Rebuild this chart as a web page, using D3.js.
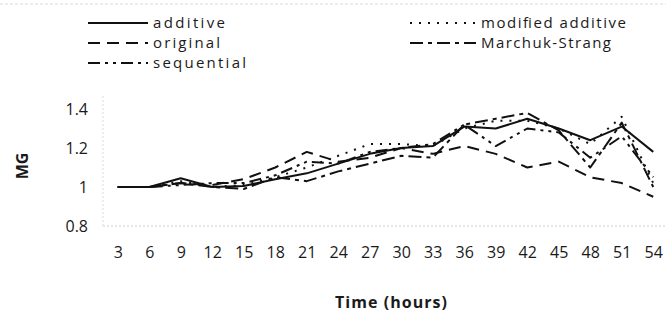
<!DOCTYPE html>
<html>
<head>
<meta charset="utf-8">
<script src="https://cdn.jsdelivr.net/npm/d3@7"></script>
<style>
  html, body { margin: 0; padding: 0; background: #fff; }
  svg { display: block; }
  text { font-family: "Open Sans", "Noto Sans", sans-serif; fill: #1a1a1a; }
</style>
</head>
<body>
<svg id="chart" width="666" height="327"></svg>
<script>
// Time axis categories (hours)
const hours = ["3","6","9","12","15","18","21","24","27","30","33","36","39","42","45","48","51","54"];
const yTicks = [0.8, 1, 1.2, 1.4];

// MG values per splitting scheme
const additive         = [1.00,1.00,1.045,1.00,1.005,1.04,1.07,1.12,1.17,1.20,1.21,1.31,1.30,1.35,1.30,1.24,1.31,1.18];
const original         = [1.00,1.00,1.02,1.01,1.04,1.10,1.18,1.13,1.15,1.20,1.17,1.21,1.17,1.10,1.13,1.05,1.02,0.95];
const sequential       = [1.00,1.00,1.01,1.02,1.02,1.06,1.13,1.12,1.18,1.20,1.22,1.32,1.21,1.30,1.28,1.15,1.26,1.05];
const modifiedAdditive = [1.00,1.00,1.03,1.00,1.01,1.05,1.10,1.16,1.22,1.22,1.21,1.30,1.34,1.34,1.30,1.22,1.36,1.02];
const marchukStrang    = [1.00,1.00,1.02,1.00,0.99,1.05,1.03,1.08,1.12,1.16,1.15,1.32,1.35,1.38,1.29,1.10,1.33,1.00];

const series = [
  { name: "additive",          values: additive,         dash: null },
  { name: "original",          values: original,         dash: "12,7" },
  { name: "sequential",        values: sequential,       dash: "12,5,3,5,3,5" },
  { name: "modified additive", values: modifiedAdditive, dash: "2,7" },
  { name: "Marchuk-Strang",    values: marchukStrang,    dash: "13,5,4,5" }
];

const svg = d3.select("#chart");

const x = d3.scalePoint().domain(hours).range([102, 669]).padding(0.5);
const y = d3.scaleLinear().domain([0.8, 1.4]).range([226, 109]);

// faint frame line at the top
svg.append("line")
  .attr("x1", 0).attr("x2", 666).attr("y1", 4).attr("y2", 4)
  .attr("stroke", "#e6e6e6").attr("stroke-width", 1.5).attr("stroke-dasharray", "3,2");

// faint dotted axis lines
svg.append("line")
  .attr("x1", 103).attr("x2", 666).attr("y1", y(0.8)).attr("y2", y(0.8))
  .attr("stroke", "#cfcfcf").attr("stroke-width", 1.2).attr("stroke-dasharray", "2,2");
svg.append("line")
  .attr("x1", 103).attr("x2", 103).attr("y1", 96).attr("y2", y(0.8))
  .attr("stroke", "#e2e2e2").attr("stroke-width", 1.2).attr("stroke-dasharray", "2,2");

// y axis labels
const yAxis = d3.axisLeft(y).tickValues(yTicks).tickSize(0).tickPadding(0)
  .tickFormat(d => d === 1 ? "1" : d3.format(".1f")(d));
const gy = svg.append("g").attr("transform", "translate(88,0)").call(yAxis);
gy.select(".domain").remove();
gy.selectAll("text").attr("font-size", 16).attr("font-family", "Open Sans, sans-serif").attr("fill", "#1a1a1a");

// x axis labels
const xAxis = d3.axisBottom(x).tickSize(0).tickPadding(0);
const gx = svg.append("g").attr("transform", "translate(0,247)").call(xAxis);
gx.select(".domain").remove();
gx.selectAll("text").attr("font-size", 16).attr("font-family", "Open Sans, sans-serif").attr("fill", "#1a1a1a");

// axis titles
svg.append("text")
  .attr("x", 391).attr("y", 308).attr("text-anchor", "middle")
  .attr("font-size", 16).attr("font-weight", "bold")
  .attr("textLength", 112).attr("lengthAdjust", "spacing")
  .text("Time (hours)");
svg.append("text")
  .attr("transform", "translate(28,166) rotate(-90)")
  .attr("text-anchor", "middle")
  .attr("font-size", 16).attr("font-weight", "bold")
  .text("MG");

// lines
const line = d3.line().x((d, i) => x(hours[i])).y(d => y(d));
svg.append("g").selectAll("path")
  .data(series)
  .join("path")
  .attr("d", s => line(s.values))
  .attr("fill", "none")
  .attr("stroke", "#111")
  .attr("stroke-width", 2)
  .attr("stroke-linejoin", "round")
  .attr("stroke-dasharray", s => s.dash);

// legend
const legendPos = [
  { sx: 88,  tx: 153, ty: 23, w: 72 },
  { sx: 88,  tx: 153, ty: 43, w: 67 },
  { sx: 88,  tx: 153, ty: 63, w: 93 },
  { sx: 410, tx: 481, ty: 23, w: 145 },
  { sx: 410, tx: 481, ty: 43, w: 130 }
];
const lg = svg.append("g").selectAll("g")
  .data(series)
  .join("g");
lg.append("line")
  .attr("x1", (d, i) => legendPos[i].sx)
  .attr("x2", (d, i) => legendPos[i].tx - 5)
  .attr("y1", (d, i) => legendPos[i].ty)
  .attr("y2", (d, i) => legendPos[i].ty)
  .attr("stroke", "#111").attr("stroke-width", 2)
  .attr("stroke-dasharray", d => d.dash);
lg.append("text")
  .attr("x", (d, i) => legendPos[i].tx)
  .attr("y", (d, i) => legendPos[i].ty)
  .attr("dy", "0.35em")
  .attr("font-size", 15)
  .attr("textLength", (d, i) => legendPos[i].w)
  .attr("lengthAdjust", "spacing")
  .text(d => d.name);
</script>
</body>
</html>
